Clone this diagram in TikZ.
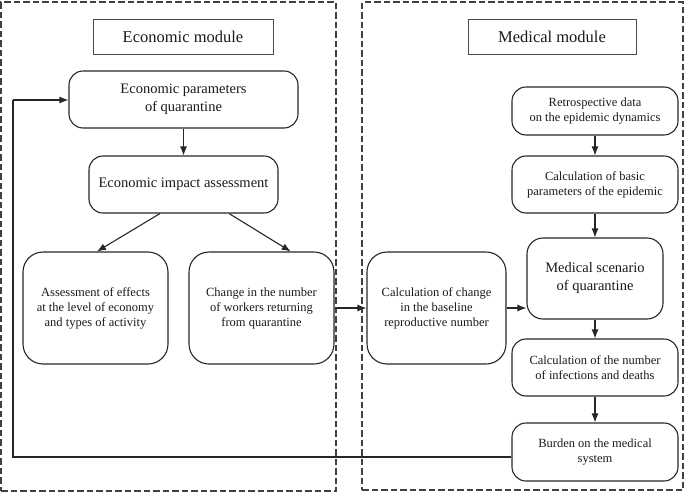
\documentclass[tikz,border=0pt]{standalone}
\usepackage{fontspec}
\setmainfont{Liberation Serif}
\usetikzlibrary{arrows.meta,calc}
\begin{document}
\begin{tikzpicture}[x=1pt,y=-1pt,
  modbox/.style={draw=black!75,line width=1.1pt,dash pattern=on 6.5pt off 3pt,inner sep=0pt},
  labelbox/.style={draw=black!70,line width=0.8pt,inner sep=0pt,
    font=\fontsize{16.5}{19}\selectfont,text=black!90},
  bigbox/.style={draw=black!85,line width=1.1pt,rounded corners=14pt,inner sep=0pt,align=center,
    font=\fontsize{14.5}{18}\selectfont,text=black!90},
  smallbox/.style={draw=black!85,line width=1.1pt,rounded corners=14pt,inner sep=0pt,align=center,
    font=\fontsize{12.5}{15}\selectfont,text=black!90},
  tallbox/.style={smallbox,rounded corners=20pt},
  arr/.style={draw=black!85,line width=1.1pt,-{Latex[length=9pt,width=7pt]}},
  ln/.style={draw=black!85,line width=1.1pt}
]
\useasboundingbox (0,0) rectangle (685,493);
% modules
\node[modbox,minimum width=335pt,minimum height=489pt] (econmod) at (168.5,246.5) {};
\node[modbox,minimum width=321pt,minimum height=488pt] (medmod) at (522.5,246) {};
% labels
\node[labelbox,minimum width=180pt,minimum height=35pt] (econlabel) at (183,36.5) {Economic module};
\node[labelbox,minimum width=168pt,minimum height=35pt] (medlabel) at (552,36.5) {Medical module};
% economic nodes
\node[bigbox,minimum width=229pt,minimum height=57pt] (params) at (183.5,99.5) {Economic parameters\\of quarantine};
\node[bigbox,minimum width=189pt,minimum height=57pt] (impact) at (183.5,184.5) {Economic impact assessment};
\node[tallbox,minimum width=145pt,minimum height=112pt] (assess) at (95.5,308) {Assessment of effects\\at the level of economy\\and types of activity};
\node[tallbox,minimum width=145pt,minimum height=112pt] (change) at (261.5,308) {Change in the number\\of workers returning\\from quarantine};
% medical nodes
\node[tallbox,minimum width=139pt,minimum height=112pt] (calcR) at (436.5,308) {Calculation of change\\in the baseline\\reproductive number};
\node[smallbox,minimum width=166pt,minimum height=48pt] (retro) at (595,111) {Retrospective data\\on the epidemic dynamics};
\node[smallbox,minimum width=166pt,minimum height=57pt] (basic) at (595,184.5) {Calculation of basic\\parameters of the epidemic};
\node[bigbox,rounded corners=16pt,minimum width=136pt,minimum height=81pt] (scen) at (595,278.5) {Medical scenario\\of quarantine};
\node[smallbox,minimum width=166pt,minimum height=57pt] (num) at (595,367.5) {Calculation of the number\\of infections and deaths};
\node[smallbox,minimum width=166pt,minimum height=58pt] (burden) at (595,452) {Burden on the medical\\system};
% connectors
\draw[arr] (params) -- (impact);
\draw[arr] ($(impact.south west)!0.376!(impact.south east)$) -- ($(assess.north west)!0.51!(assess.north east)$);
\draw[arr] ($(impact.south west)!0.74!(impact.south east)$) -- ($(change.north west)!0.7!(change.north east)$);
\draw[arr] (change.east) -- (calcR.west);
\draw[arr] (calcR.east) -- (calcR.east -| scen.west);
\draw[arr] (retro) -- (basic);
\draw[arr] (basic) -- (scen);
\draw[arr] (scen) -- (num);
\draw[arr] (num) -- (burden);
\coordinate (fbA) at (13,457);
\coordinate (fbB) at (13,100);
\draw[ln] (burden.west |- fbA) -- (fbA) -- (fbB);
\draw[arr] (fbB) -- (params.west |- fbB);
\end{tikzpicture}
\end{document}
